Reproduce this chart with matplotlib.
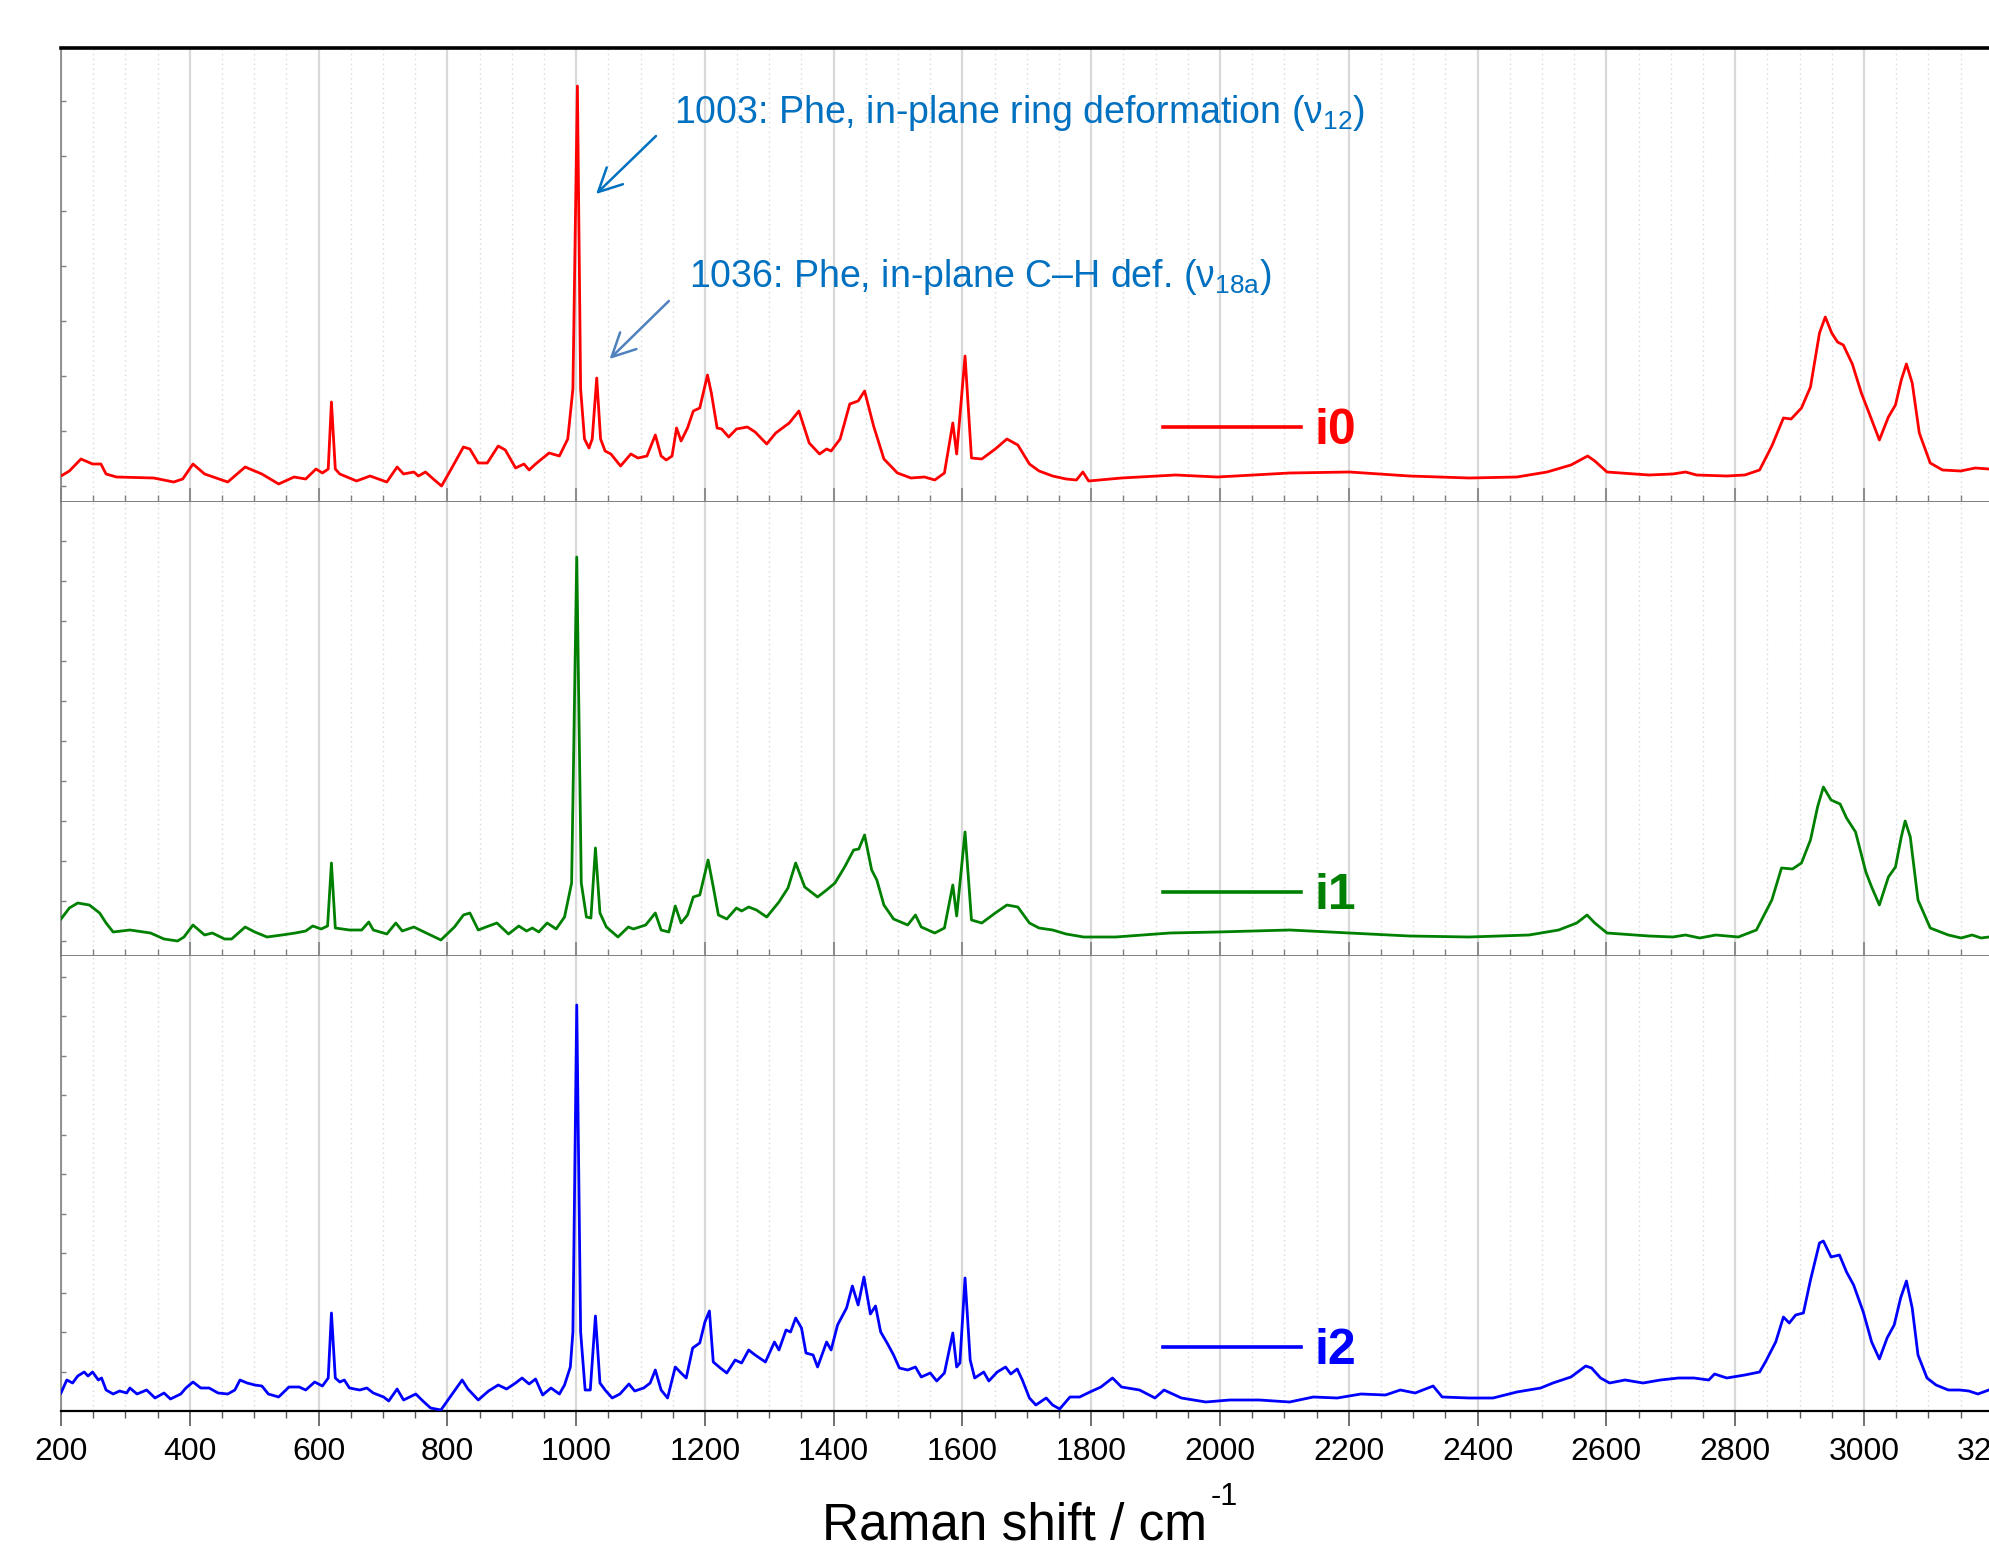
import matplotlib
matplotlib.use("Agg")
import matplotlib.pyplot as plt
from matplotlib import font_manager
from matplotlib.ticker import MultipleLocator, FixedLocator, NullFormatter

names = {f.name for f in font_manager.fontManager.ttflist}
FONT = 'Liberation Sans Narrow' if 'Liberation Sans Narrow' in names else 'Liberation Sans'
plt.rcParams['font.family'] = [FONT, 'DejaVu Sans']
plt.rcParams['mathtext.fontset'] = 'custom'
plt.rcParams['mathtext.rm'] = FONT
plt.rcParams['mathtext.it'] = FONT

# ---------------- data (intensity in arbitrary units) -------------
wn_i0 = [200, 213, 231, 249, 262, 270, 286, 344, 375, 389, 405, 423, 459, 486, 512, 538, 562,
         580, 596, 606, 615, 620, 626, 633, 659, 680, 706, 722, 732, 748, 755, 766, 780, 791,
         806, 825, 835, 848, 862, 879, 890, 906, 919, 927, 937, 958, 974, 987, 995, 1002,
         1007, 1013, 1020, 1025, 1032, 1038, 1045, 1054, 1069, 1085, 1096, 1110, 1123, 1132,
         1140, 1149, 1156, 1163, 1173, 1182, 1192, 1204, 1210, 1219, 1226, 1237, 1249, 1266,
         1278, 1296, 1310, 1331, 1346, 1362, 1378, 1389, 1396, 1410, 1425, 1438, 1448, 1462,
         1478, 1499, 1520, 1541, 1557, 1572, 1585, 1591, 1604, 1614, 1630, 1651, 1669, 1686,
         1704, 1719, 1740, 1761, 1777, 1787, 1796, 1847, 1931, 1996, 2108, 2201, 2294, 2387,
         2461, 2508, 2545, 2571, 2582, 2601, 2666, 2703, 2723, 2740, 2787, 2815, 2838, 2857,
         2875, 2887, 2903, 2917, 2931, 2940, 2950, 2959, 2968, 2982, 2996, 3008, 3024, 3038,
         3049, 3058, 3066, 3075, 3086, 3103, 3122, 3150, 3173, 3194]
int_i0 = [26, 31, 43, 38, 38, 28, 25, 24, 20, 23, 38, 28, 20, 35, 28, 18, 25,
          23, 33, 29, 33, 100, 33, 28, 21, 26, 20, 35, 28, 30, 26, 30, 22, 16,
          33, 55, 53, 39, 39, 56, 52, 34, 38, 32, 38, 49, 46, 63, 113, 416,
          113, 63, 54, 63, 124, 63, 51, 48, 36, 48, 44, 46, 67, 46,
          42, 46, 74, 61, 74, 91, 94, 127, 109, 74, 73, 65, 73, 75,
          70, 58, 69, 79, 91, 59, 48, 53, 51, 63, 98, 101, 111, 76,
          43, 29, 24, 25, 22, 29, 79, 48, 146, 44, 43, 53, 63, 57,
          38, 31, 26, 23, 22, 30, 21, 24, 27, 25, 29, 30, 26, 24,
          25, 30, 37, 46, 41, 30, 27, 28, 30, 27, 26, 27, 32, 56,
          84, 83, 94, 115, 169, 185, 169, 160, 157, 138, 109, 89, 62, 85,
          97, 122, 138, 119, 69, 39, 32, 31, 34, 33]

wn_i1 = [200, 213, 226, 244, 260, 270, 281, 307, 339, 360, 381, 391, 405, 423, 435, 454, 465,
         486, 501, 520, 543, 564, 580, 591, 604, 614, 620, 626, 648, 667, 678, 685, 706, 720,
         730, 748, 764, 790, 811, 825, 835, 848, 860, 877, 895, 911, 923, 932, 942, 955, 969,
         982, 993, 1001, 1008, 1016, 1023, 1030, 1037, 1047, 1065, 1081, 1089, 1108, 1123,
         1132, 1144, 1154, 1163, 1173, 1182, 1192, 1205, 1213, 1221, 1234, 1249, 1257, 1268,
         1280, 1296, 1315, 1329, 1341, 1355, 1375, 1389, 1402, 1417, 1431, 1439, 1448, 1459,
         1467, 1478, 1493, 1515, 1527, 1536, 1557, 1572, 1585, 1591, 1604, 1614, 1630, 1651,
         1669, 1686, 1704, 1719, 1740, 1761, 1788, 1838, 1922, 1996, 2108, 2201, 2294, 2387,
         2480, 2526, 2554, 2570, 2582, 2601, 2666, 2703, 2723, 2745, 2770, 2805, 2833, 2857,
         2872, 2889, 2903, 2917, 2928, 2937, 2949, 2963, 2973, 2987, 3003, 3012, 3024, 3038,
         3049, 3058, 3064, 3072, 3084, 3103, 3131, 3151, 3168, 3182, 3194]
int_i1 = [37, 48, 53, 51, 43, 33, 24, 26, 23, 17, 15, 19, 31, 21, 23, 17, 17,
          29, 24, 19, 21, 23, 25, 30, 27, 30, 93, 28, 26, 26, 34, 26, 22, 33,
          25, 29, 24, 16, 29, 41, 43, 26, 29, 33, 22, 30, 25, 28, 24, 33, 27,
          39, 73, 399, 73, 39, 38, 108, 43, 29, 19, 29, 27, 31, 43,
          26, 24, 50, 33, 41, 59, 61, 96, 69, 41, 37, 48, 45, 49,
          46, 39, 54, 68, 93, 69, 59, 66, 73, 89, 106, 107, 121, 86,
          76, 51, 37, 31, 41, 29, 23, 28, 71, 40, 124, 36, 33, 43,
          51, 49, 33, 28, 26, 22, 19, 19, 23, 24, 26, 23, 20, 19,
          21, 26, 33, 41, 33, 23, 20, 19, 21, 18, 21, 19, 26, 56,
          88, 87, 93, 116, 149, 169, 156, 152, 138, 124, 84, 69, 51, 79,
          89, 119, 135, 119, 56, 28, 21, 18, 21, 18, 19]

wn_i2 = [200, 209, 218, 226, 236, 242, 249, 258, 263, 270, 281, 291, 302, 307, 318, 333, 346,
         360, 370, 386, 394, 405, 417, 430, 444, 459, 470, 478, 489, 501, 512, 522, 538, 554,
         570, 580, 594, 606, 615, 620, 626, 633, 640, 648, 664, 675, 685, 701, 709, 722, 732,
         751, 762, 774, 790, 801, 814, 823, 832, 848, 864, 879, 892, 906, 916, 927, 937, 948,
         961, 974, 982, 991, 995, 1001, 1007, 1014, 1022, 1030, 1037, 1045, 1056, 1068, 1082,
         1091, 1105, 1115, 1123, 1132, 1142, 1154, 1163, 1171, 1181, 1192, 1200, 1207, 1213,
         1224, 1234, 1247, 1257, 1268, 1278, 1294, 1308, 1315, 1326, 1333, 1341, 1350, 1357,
         1368, 1375, 1389, 1396, 1406, 1420, 1429, 1438, 1447, 1457, 1465, 1473, 1483, 1493,
         1502, 1515, 1527, 1536, 1550, 1560, 1572, 1585, 1591, 1596, 1604, 1612, 1619, 1633,
         1641, 1654, 1667, 1675, 1685, 1693, 1704, 1714, 1730, 1740, 1751, 1767, 1782, 1798,
         1815, 1833, 1847, 1875, 1899, 1913, 1940, 1978, 2015, 2061, 2108, 2145, 2182, 2219,
         2257, 2280, 2303, 2331, 2345, 2387, 2424, 2461, 2498, 2517, 2545, 2568, 2577, 2591,
         2605, 2629, 2657, 2684, 2712, 2736, 2759, 2768, 2787, 2815, 2838, 2847, 2863, 2875,
         2884, 2894, 2906, 2917, 2931, 2937, 2949, 2962, 2973, 2984, 2999, 3012, 3024, 3036,
         3047, 3057, 3066, 3075, 3084, 3098, 3112, 3131, 3149, 3163, 3177, 3194]
int_i2 = [18, 31, 28, 35, 39, 35, 39, 31, 33, 21, 17, 20, 18, 23, 17, 21, 13,
          18, 12, 17, 23, 29, 23, 23, 18, 17, 21, 31, 28, 26, 25, 17, 14, 24,
          24, 21, 29, 25, 33, 98, 33, 29, 31, 23, 21, 23, 18, 14, 10, 22, 11,
          17, 10, 3, 1, 11, 23, 31, 22, 11, 20, 26, 22, 28, 33, 27, 32, 16,
          23, 17, 26, 44, 79, 406, 79, 21, 21, 95, 28, 21, 13, 17, 27,
          20, 23, 28, 41, 21, 13, 44, 38, 33, 63, 68, 89, 100, 49,
          43, 38, 51, 48, 61, 56, 49, 69, 61, 81, 79, 93, 83, 58,
          56, 44, 69, 61, 86, 103, 125, 106, 134, 97, 105, 79, 68, 56,
          43, 41, 44, 34, 38, 30, 38, 78, 44, 48, 133, 51, 33, 39,
          30, 39, 44, 37, 42, 31, 13, 6, 13, 6, 2, 14, 14, 19,
          24, 33, 24, 21, 13, 21, 13, 9, 11, 11, 9, 14, 13, 17,
          16, 21, 18, 25, 14, 13, 13, 19, 23, 28, 34, 45, 43, 33,
          28, 31, 28, 31, 33, 33, 31, 37, 33, 36, 39, 49, 69, 94,
          88, 96, 98, 131, 168, 170, 154, 156, 139, 126, 99, 69, 52, 73,
          86, 113, 130, 103, 56, 33, 26, 21, 21, 20, 17, 21]

series = [("i0", wn_i0, int_i0, "#ff0000"),
          ("i1", wn_i1, int_i1, "#008000"),
          ("i2", wn_i2, int_i2, "#0000ff")]
x_ticks = list(range(200, 3401, 200))

# ---------------- layout ----------------
W, H = 1989, 1547
fig = plt.figure(figsize=(W / 100, H / 100), dpi=100)
left = 61 / W
width = (3400 - 200) * 0.6439 / W
tops = [48, 502, 956]
bots = [502, 956, 1411]
legend_y = [431, 896, 1351]
ytick_sets = [[16 + 55 * k for k in range(8)],
              [15 + 40 * k for k in range(11)],
              [39.5 * k for k in range(1, 12)]]

axes = []
for i, (name, wn, inten, col) in enumerate(series):
    ax = fig.add_axes([left, 1 - bots[i] / H, width, (bots[i] - tops[i]) / H])
    axes.append(ax)
    ax.plot(wn, inten, color=col, lw=2.0, label=name, zorder=3)
    ax.set_xlim(200, 3400)
    ax.set_ylim(0, bots[i] - tops[i])
    ax.xaxis.set_major_locator(FixedLocator(x_ticks))
    ax.xaxis.set_minor_locator(MultipleLocator(50))
    ax.yaxis.set_major_locator(FixedLocator(ytick_sets[i]))
    ax.yaxis.set_major_formatter(NullFormatter())
    ax.grid(which='major', axis='x', color='#d9d9d9', lw=1.6, zorder=0)
    ax.grid(which='minor', axis='x', color='#d9d9d9', lw=1.0, ls=(0, (1, 2.5)), zorder=0)
    ax.set_axisbelow(True)
    ax.spines['right'].set_visible(False)
    ax.spines['left'].set_color('#808080')
    ax.spines['left'].set_linewidth(1.2)
    ax.tick_params(axis='y', which='major', direction='in', length=3.5, width=1,
                   color='#808080', left=True, right=False)
    if i == 0:
        ax.spines['top'].set_color('black')
        ax.spines['top'].set_linewidth(2.6)
    else:
        ax.spines['top'].set_visible(False)
    if i < 2:
        ax.spines['bottom'].set_color('#7f7f7f')
        ax.spines['bottom'].set_linewidth(1.4)
        ax.tick_params(axis='x', which='major', direction='in', length=10, width=1.2,
                       color='#7f7f7f', labelbottom=False, top=False)
        ax.tick_params(axis='x', which='minor', direction='in', length=5, width=1.0,
                       color='#7f7f7f', top=False)
    else:
        ax.spines['bottom'].set_color('black')
        ax.spines['bottom'].set_linewidth(1.6)
        ax.tick_params(axis='x', which='major', direction='out', length=11, width=1.2,
                       color='#595959', labelsize=23, pad=8, top=False)
        ax.tick_params(axis='x', which='minor', direction='out', length=5, width=1.0,
                       color='#595959', top=False)
        ax.set_xticklabels([str(t) for t in x_ticks])
    ax.legend(loc='center left', bbox_to_anchor=(1163 / W, 1 - legend_y[i] / H),
              bbox_transform=fig.transFigure, frameon=False, handlelength=2.75,
              handletextpad=0.28, borderpad=0, borderaxespad=0,
              prop={'family': FONT, 'weight': 'bold', 'size': 36},
              labelcolor='linecolor')
    for line in ax.get_legend().get_lines():
        line.set_linewidth(2.6)

# ---------------- annotations ----------------
ax1 = axes[0]
ax1.annotate('', xy=(1031, 308), xytext=(1124, 366),
             arrowprops=dict(arrowstyle='->,head_length=0.7,head_width=0.35',
                             color='#0070c0', lw=1.8, mutation_scale=24,
                             shrinkA=0, shrinkB=0), zorder=4)
ax1.annotate('', xy=(1052, 143), xytext=(1144, 201),
             arrowprops=dict(arrowstyle='->,head_length=0.7,head_width=0.35',
                             color='#4f81bd', lw=1.8, mutation_scale=24,
                             shrinkA=0, shrinkB=0), zorder=4)
ax1.text(1152, 389, '1003: Phe, in-plane ring deformation (ν${}_{\\mathrm{12}}$)',
         color='#0070c0', fontsize=27, ha='left', va='center')
ax1.text(1175, 225, '1036: Phe, in-plane C–H def. (ν${}_{\\mathrm{18a}}$)',
         color='#0070c0', fontsize=27, ha='left', va='center')

# x-axis title with a raised "-1" superscript
xl = fig.text(822 / W, 1 - 1539 / H, 'Raman shift / cm', ha='left', va='baseline',
              fontsize=37)
renderer = fig.canvas.get_renderer()
bb = xl.get_window_extent(renderer=renderer)
fig.text((bb.x1 + 4) / W, 1 - 1505 / H, '-1', ha='left', va='baseline', fontsize=22)

fig.savefig('out.png', dpi=100)
